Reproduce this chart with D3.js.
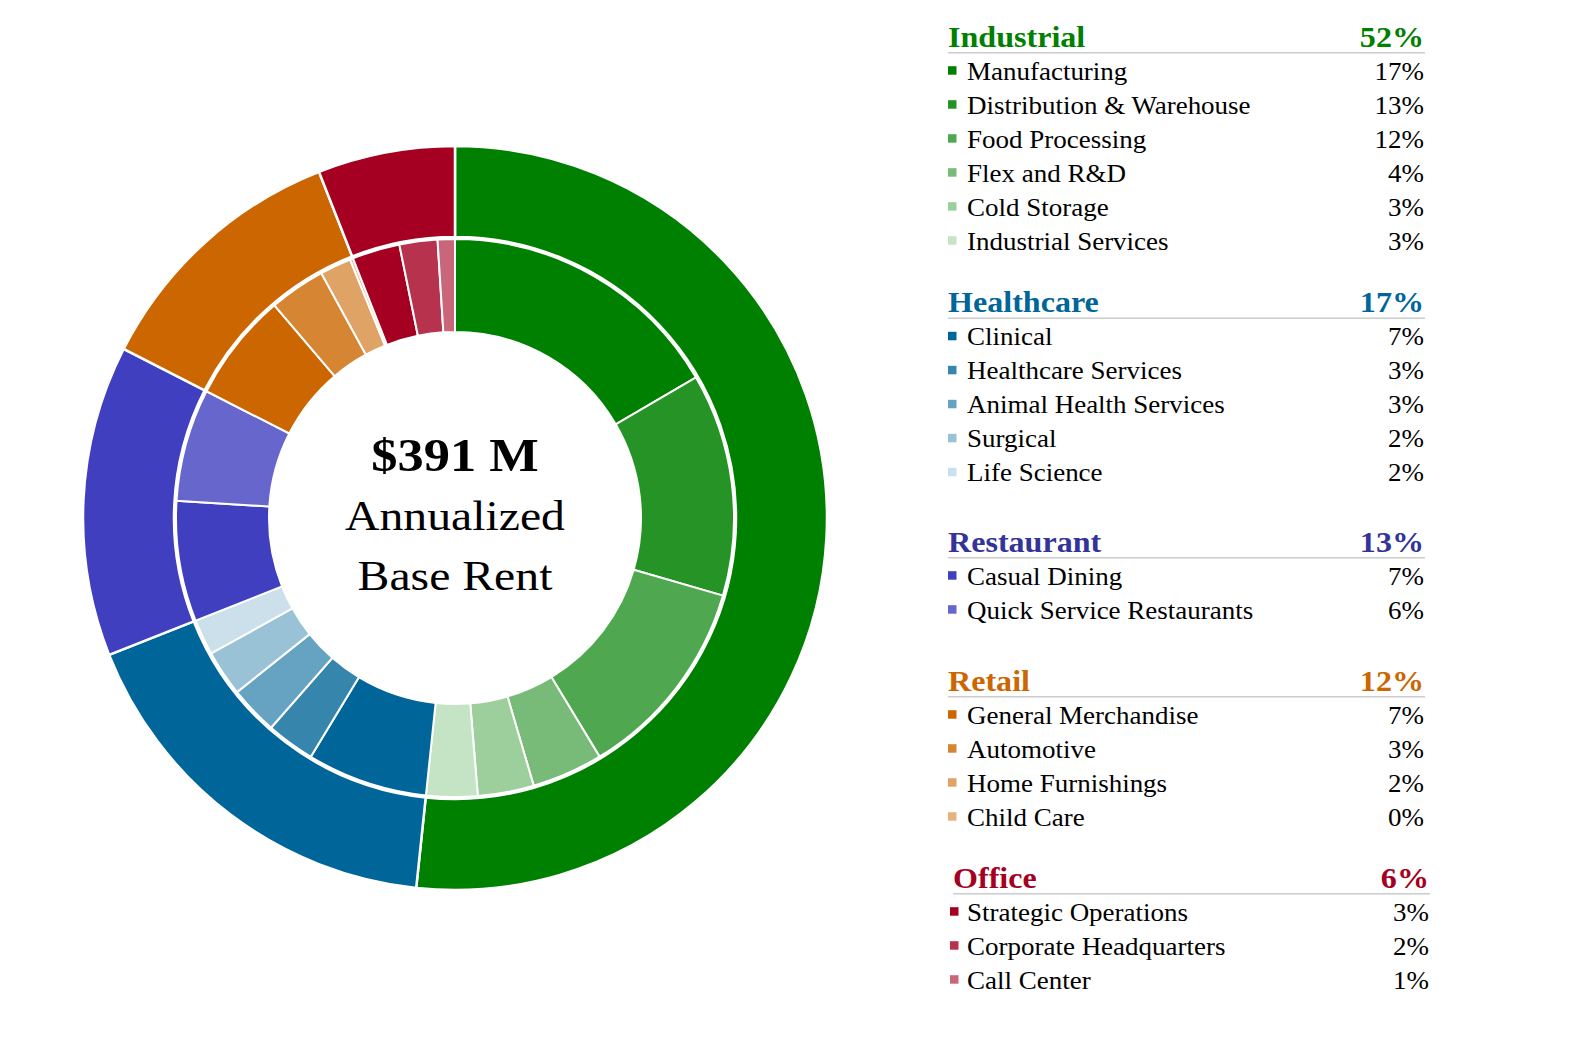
<!DOCTYPE html>
<html>
<head>
<meta charset="utf-8">
<script src="https://cdn.jsdelivr.net/npm/d3@7"></script>
<style>
  html, body { margin: 0; padding: 0; background: #ffffff; }
  svg { display: block; }
  text { font-family: "Liberation Serif", "Times New Roman", Times, serif; }
</style>
</head>
<body>
<svg id="chart" width="1576" height="1047"></svg>
<script>
// ---------------- DATA ----------------
const categories = ["Industrial", "Healthcare", "Restaurant", "Retail", "Office"];
const categoryPctLabels = [52, 17, 13, 12, 6];
const categoryColors = ["#008000", "#00669a", "#3f3fbf", "#cc6600", "#a50021"];
const categoryTextColors = ["#008000", "#00669a", "#333399", "#cc6600", "#a50021"];

const industrialSubs = ["Manufacturing", "Distribution & Warehouse", "Food Processing", "Flex and R&D", "Cold Storage", "Industrial Services"];
const industrialAbr  = [64.9, 50.4, 46.3, 16.1, 12.7, 11.6];   // $M
const industrialPct  = [17, 13, 12, 4, 3, 3];
const industrialColors = ["#008000", "#269326", "#4fa84f", "#78bb78", "#9dcf9d", "#c5e3c5"];

const healthcareSubs = ["Clinical", "Healthcare Services", "Animal Health Services", "Surgical", "Life Science"];
const healthcareAbr  = [27.3, 11.0, 11.0, 10.4, 8.1];
const healthcarePct  = [7, 3, 3, 2, 2];
const healthcareColors = ["#00669a", "#3685ad", "#66a3c2", "#99c2d6", "#cce0eb"];

const restaurantSubs = ["Casual Dining", "Quick Service Restaurants"];
const restaurantAbr  = [27.3, 25.5];
const restaurantPct  = [7, 6];
const restaurantColors = ["#3f3fbf", "#6666cc"];

const retailSubs = ["General Merchandise", "Automotive", "Home Furnishings", "Child Care"];
const retailAbr  = [24.6, 12.7, 7.1, 0.7];
const retailPct  = [7, 3, 2, 0];
const retailColors = ["#cc6600", "#d68533", "#e0a366", "#e6b380"];

const officeSubs = ["Strategic Operations", "Corporate Headquarters", "Call Center"];
const officeAbr  = [10.8, 8.6, 3.9];
const officePct  = [3, 2, 1];
const officeColors = ["#a50021", "#b7334d", "#c9667a"];

const centerLines = ["Annualized", "Base Rent"];

// ---------------- BUILD TABLES ----------------
const subNames  = [industrialSubs, healthcareSubs, restaurantSubs, retailSubs, officeSubs];
const subAbr    = [industrialAbr, healthcareAbr, restaurantAbr, retailAbr, officeAbr];
const subPct    = [industrialPct, healthcarePct, restaurantPct, retailPct, officePct];
const subColors = [industrialColors, healthcareColors, restaurantColors, retailColors, officeColors];

const groups = categories.map((c, i) => ({
  name: c, color: categoryColors[i], textColor: categoryTextColors[i], pct: categoryPctLabels[i],
  value: d3.sum(subAbr[i]),
  subs: subNames[i].map((n, j) => ({ name: n, value: subAbr[i][j], pct: subPct[i][j], color: subColors[i][j] }))
}));
const flatSubs = groups.flatMap(g => g.subs);
const total = d3.sum(groups, g => g.value);

// ---------------- LAYOUT ----------------
const svg = d3.select("#chart");
const cx = 455, cy = 518;
const rIn0 = 186, rIn1 = 279, rOut0 = 281, rOut1 = 372;

const pie = d3.pie().sort(null).value(d => d.value).startAngle(0).endAngle(2 * Math.PI);
const arcInner = d3.arc().innerRadius(rIn0).outerRadius(rIn1);
const arcOuter = d3.arc().innerRadius(rOut0).outerRadius(rOut1);

const donut = svg.append("g").attr("transform", `translate(${cx},${cy})`);

donut.append("g").selectAll("path")
  .data(pie(groups)).join("path")
  .attr("d", arcOuter)
  .attr("fill", d => d.data.color)
  .attr("stroke", "#ffffff").attr("stroke-width", 2.5).attr("stroke-linejoin", "miter");

donut.append("g").selectAll("path")
  .data(pie(flatSubs)).join("path")
  .attr("d", arcInner)
  .attr("fill", d => d.data.color)
  .attr("stroke", "#ffffff").attr("stroke-width", 2).attr("stroke-linejoin", "miter");

// centre text
const sx = 1.11;
donut.append("text")
  .attr("transform", `translate(0,${471 - cy}) scale(1.14,1)`)
  .attr("text-anchor", "middle")
  .attr("font-weight", "bold").attr("font-size", 46).attr("fill", "#000")
  .text("$" + d3.format(".0f")(total) + " M");
centerLines.forEach((t, i) => {
  donut.append("text")
    .attr("transform", `translate(0,${530 + i * 60 - cy}) scale(${sx},1)`)
    .attr("text-anchor", "middle")
    .attr("font-size", 43).attr("fill", "#000")
    .text(t);
});

// ---------------- LEGEND ----------------
const headerY = [46.7, 312.3, 551.7, 690.7, 887.7];
const groupDx = [0, 0, 0, 0, 5];
const legX0 = 948, legX1 = 1424;
const itemStep = 34, firstItemGap = 33;
const hSx = 1.07, iSx = 1.08;

const legend = svg.append("g");
groups.forEach((g, gi) => {
  const dx = groupDx[gi];
  const hy = headerY[gi];
  const gg = legend.append("g");
  gg.append("text")
    .attr("transform", `translate(${legX0 + dx},${hy}) scale(${hSx},1)`)
    .attr("font-weight", "bold").attr("font-size", 30).attr("fill", g.textColor)
    .text(g.name);
  gg.append("text")
    .attr("transform", `translate(${legX1 + dx},${hy}) scale(${hSx},1)`)
    .attr("text-anchor", "end")
    .attr("font-weight", "bold").attr("font-size", 30).attr("fill", g.textColor)
    .text(g.pct + "%");
  gg.append("line")
    .attr("x1", legX0 + dx).attr("x2", legX1 + 1 + dx)
    .attr("y1", hy + 6).attr("y2", hy + 6)
    .attr("stroke", "#cccccc").attr("stroke-width", 1.5);
  g.subs.forEach((s, si) => {
    const y = hy + firstItemGap + si * itemStep;
    gg.append("rect")
      .attr("x", legX0 + (dx ? 2 : 0)).attr("y", y - 13.5)
      .attr("width", 8.5).attr("height", 8.5)
      .attr("fill", s.color);
    gg.append("text")
      .attr("transform", `translate(${967},${y}) scale(${iSx},1)`)
      .attr("font-size", 25).attr("fill", "#000")
      .text(s.name);
    gg.append("text")
      .attr("transform", `translate(${legX1 + dx},${y}) scale(${iSx},1)`)
      .attr("text-anchor", "end")
      .attr("font-size", 25).attr("fill", "#000")
      .text(s.pct + "%");
  });
});
</script>
</body>
</html>
